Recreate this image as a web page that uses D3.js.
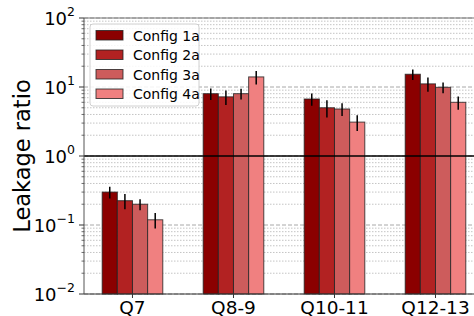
<!DOCTYPE html>
<html><head><meta charset="utf-8">
<script src="https://cdn.jsdelivr.net/npm/d3@7"></script>
<style>body{margin:0;background:#fff;} svg{display:block;font-family:"DejaVu Sans",sans-serif;}</style>
</head><body>
<svg id="c" width="474" height="316"></svg>
<script>
const categories = ["Q7", "Q8-9", "Q10-11", "Q12-13"];
const seriesNames = ["Config 1a", "Config 2a", "Config 3a", "Config 4a"];
const seriesColors = ["#8b0000", "#b22222", "#cd5c5c", "#f08080"];
const config1a = [0.30, 8.0, 6.7, 15.3];
const config2a = [0.225, 7.2, 5.0, 11.1];
const config3a = [0.20, 8.0, 4.8, 9.9];
const config4a = [0.119, 14.0, 3.1, 6.0];
const err1a = [0.057, 1.5, 1.35, 2.7];
const err2a = [0.056, 1.7, 1.4, 2.6];
const err3a = [0.037, 1.4, 1.0, 1.75];
const err4a = [0.030, 3.1, 0.8, 1.3];
const yTickExps = [-2, -1, 0, 1, 2];

const values = [config1a, config2a, config3a, config4a];
const errors = [err1a, err2a, err3a, err4a];

const svg = d3.select("#c");
const L = 84, R = 486, T = 18, B = 294;
const x = d3.scaleLinear().domain([-0.48, 3.5]).range([L, R]);
const y = d3.scaleLog().domain([0.01, 100]).range([B, T]);
const barW = 0.15;

// grid
const g = svg.append("g");
const minor = [];
for (let e = -2; e < 2; e++) for (let k = 2; k <= 9; k++) minor.push(k * Math.pow(10, e));
g.selectAll("line.mn").data(minor).join("line")
  .attr("x1", L).attr("x2", 474).attr("y1", d => y(d)).attr("y2", d => y(d))
  .attr("stroke", "#c4c4c4").attr("stroke-width", 1).attr("stroke-dasharray", "1.5,1.5");
const major = yTickExps.map(e => Math.pow(10, e));
g.selectAll("line.mj").data(major).join("line")
  .attr("x1", L).attr("x2", 474).attr("y1", d => y(d)).attr("y2", d => y(d))
  .attr("stroke", "#a8a8a8").attr("stroke-width", 1).attr("stroke-dasharray", "4,2");

// bars
const bars = svg.append("g");
values.forEach((vals, j) => {
  bars.selectAll(null).data(vals).join("rect")
    .attr("x", (d, i) => x(i + (j - 2) * barW))
    .attr("width", x(barW) - x(0))
    .attr("y", d => y(d))
    .attr("height", d => B - y(d))
    .attr("fill", seriesColors[j])
    .attr("stroke", "#222").attr("stroke-opacity", 0.8).attr("stroke-width", 1);
});
values.forEach((vals, j) => {
  bars.selectAll(null).data(vals).join("line")
    .attr("x1", (d, i) => x(i + (j - 1.5) * barW))
    .attr("x2", (d, i) => x(i + (j - 1.5) * barW))
    .attr("y1", (d, i) => y(d + errors[j][i]))
    .attr("y2", (d, i) => y(d - errors[j][i]))
    .attr("stroke", "#000").attr("stroke-width", 1.5);
});

// y=1 line
svg.append("line").attr("x1", L).attr("x2", 474).attr("y1", y(1)).attr("y2", y(1))
  .attr("stroke", "#000").attr("stroke-width", 1.5);

// spines
svg.append("line").attr("x1", L).attr("x2", 474).attr("y1", T).attr("y2", T).attr("stroke", "#777").attr("stroke-width", 1.2);
svg.append("line").attr("x1", L).attr("x2", 474).attr("y1", B).attr("y2", B).attr("stroke", "#333").attr("stroke-width", 1);
svg.append("line").attr("x1", L).attr("x2", L).attr("y1", T).attr("y2", B).attr("stroke", "#555").attr("stroke-width", 1);

// y ticks
svg.selectAll("line.ymt").data(major).join("line")
  .attr("x1", L - 5).attr("x2", L).attr("y1", d => y(d)).attr("y2", d => y(d)).attr("stroke", "#333");
svg.selectAll("line.ynt").data(minor).join("line")
  .attr("x1", L - 2.5).attr("x2", L).attr("y1", d => y(d)).attr("y2", d => y(d)).attr("stroke", "#333").attr("stroke-width", 0.7);
yTickExps.forEach(e => {
  const t = svg.append("text").attr("x", L - 9).attr("y", y(Math.pow(10, e)) + 6.5)
    .attr("text-anchor", "end").attr("font-size", 18).attr("fill", "#000");
  t.append("tspan").text("10");
  t.append("tspan").attr("dy", -8.5).attr("font-size", 12.5).text(e < 0 ? "\u2212" + (-e) : String(e));
});

// x ticks
svg.selectAll("line.xt").data(categories).join("line")
  .attr("x1", (d, i) => x(i)).attr("x2", (d, i) => x(i)).attr("y1", B).attr("y2", B + 4).attr("stroke", "#333");
svg.selectAll("text.xl").data(categories).join("text")
  .attr("x", (d, i) => x(i)).attr("y", 314).attr("text-anchor", "middle").attr("font-size", 18.5).text(d => d);

// y label
svg.append("text").attr("transform", "translate(30,156) rotate(-90)")
  .attr("text-anchor", "middle").attr("font-size", 22.5).text("Leakage ratio");

// legend
const lg = svg.append("g");
lg.append("rect").attr("x", 90).attr("y", 24).attr("width", 109).attr("height", 82).attr("rx", 3)
  .attr("fill", "#fff").attr("fill-opacity", 0.85).attr("stroke", "#d0d0d0");
seriesNames.forEach((n, j) => {
  lg.append("rect").attr("x", 96).attr("y", 30.5 + j * 19.5).attr("width", 27).attr("height", 9.5)
    .attr("fill", seriesColors[j]).attr("stroke", "#222").attr("stroke-opacity", 0.8);
  lg.append("text").attr("x", 133).attr("y", 40.5 + j * 19.5).attr("font-size", 14).text(n);
});
</script>
</body></html>
